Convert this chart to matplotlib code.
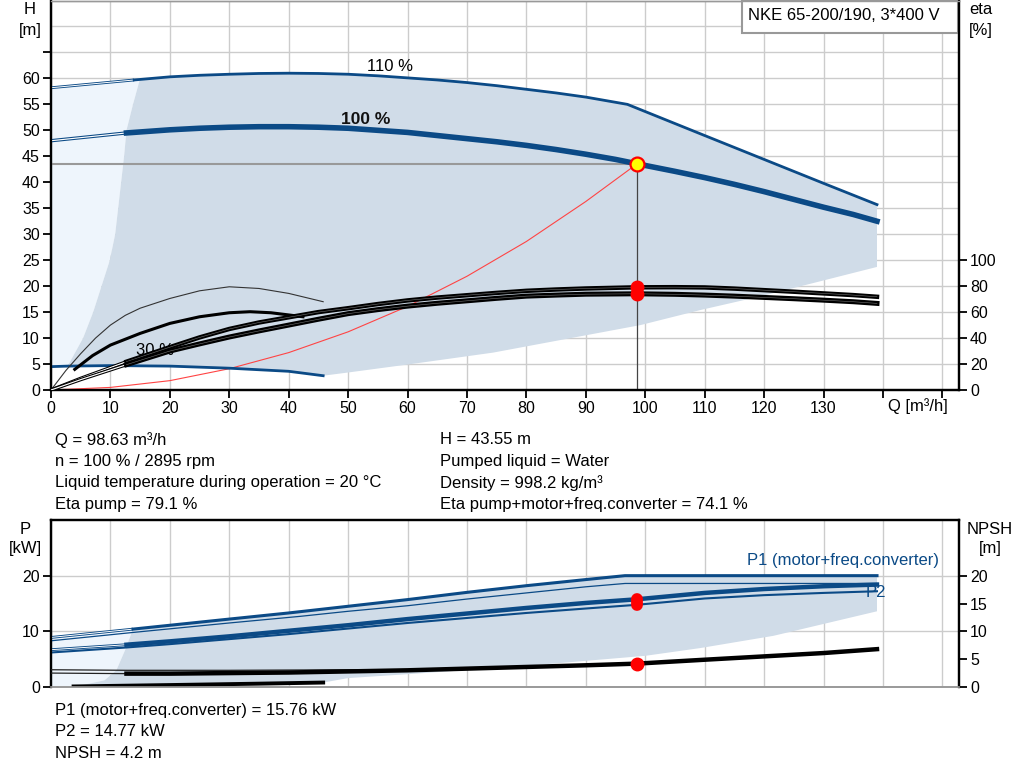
import numpy as np
import matplotlib
matplotlib.use('Agg')
import matplotlib.pyplot as plt
from matplotlib.patches import Rectangle, Polygon

plt.rcParams['font.family'] = ['Liberation Sans', 'DejaVu Sans']

BLUE = '#0b4a86'
SHADE = '#d0dce8'
LIGHT = '#eef5fc'
GRID = '#cccccc'

# ---- top chart data (Q in m3/h, H in m, eta in %) ----
q_110 = [0, 14, 20, 25, 30, 35, 40, 45, 50, 55, 60, 65, 70, 75, 80, 85, 90, 97, 110, 120, 130, 139]
h_110 = [58.2, 59.7, 60.3, 60.6, 60.8, 60.95, 61.0, 60.95, 60.8, 60.5, 60.1, 59.7, 59.2, 58.6,
         57.9, 57.2, 56.4, 55.0, 49.0, 44.4, 39.8, 35.7]

q_100 = [0, 12.7, 20, 25, 30, 35, 40, 45, 50, 55, 60, 65, 70, 75, 80, 85, 90, 95, 98.63,
         105, 110, 115, 120, 125, 130, 135, 139]
h_100 = [48.0, 49.5, 50.1, 50.4, 50.6, 50.7, 50.7, 50.6, 50.4, 50.0, 49.6, 49.0, 48.4, 47.8,
         47.1, 46.3, 45.4, 44.4, 43.55, 42.1, 40.9, 39.6, 38.2, 36.7, 35.2, 33.8, 32.5]

q_min = [0, 2.8, 10, 20, 30, 40, 45.8]
h_min = [4.5, 4.6, 4.7, 4.6, 4.2, 3.6, 2.75]

q_left = [2.8, 5.4, 7.1, 8.5, 9.9, 10.8, 11.3, 11.8, 12.3, 12.7, 13.8, 15.0]
h_left = [4.6, 10, 15, 20, 25, 30, 35, 40, 45, 50, 55, 60]

q_low = [139, 120, 109.3, 99.2, 74.4, 60, 50.2, 45.8]
h_low = [23.7, 18.2, 15.4, 12.5, 7.2, 4.9, 3.4, 2.75]

q_sys = [0, 10, 20, 30, 40, 50, 60, 70, 80, 90, 98.63]
h_sys = [0, 0.5, 1.8, 4.1, 7.2, 11.2, 16.1, 21.9, 28.6, 36.3, 43.55]

q_eta = [0, 5, 12.7, 20, 25, 30, 35, 40, 45, 50, 55, 60, 65, 70, 75, 80, 85, 90, 98.63,
         105, 110, 115, 120, 125, 130, 135, 139]
eta_pump = [0, 9, 21.8, 33, 40.5, 47, 52, 56, 60, 63, 66.2, 69, 71.2, 73, 74.8, 76.4, 77.4,
            78.2, 79.1, 79.2, 79.0, 78.1, 76.9, 75.7, 74.4, 73.1, 71.8]
eta_total = [0, 8, 19.5, 30, 35.5, 40.8, 45.5, 50, 54.5, 58.8, 61.9, 64.6, 66.8, 68.7, 70.6,
             72.3, 73.1, 73.8, 74.1, 73.7, 73.1, 72.3, 71.3, 70.3, 69.2, 68.0, 66.7]

q_eta_min = [0, 2.5, 5, 7.5, 10, 12.5, 15, 20, 25, 30, 35, 40, 45.8]
eta_pump_min = [0, 15, 28, 40, 50, 57.5, 63, 70.5, 76.4, 79.5, 78.2, 74.4, 68]
q_etat_min = [4, 7, 10, 15, 20, 25, 30, 33.5, 37, 40.2, 42.4]
eta_total_min = [15.9, 26.5, 34.6, 43.6, 51.3, 56.4, 59.5, 60.3, 59.5, 57.7, 56.4]

# ---- bottom chart data (P in kW, NPSH in m) ----
q_p = [0, 13.8, 30, 40, 50, 60, 70, 80, 90, 96.6, 110, 120, 130, 139]
p1_110 = [8.9, 10.4, 12.2, 13.3, 14.5, 15.7, 17.0, 18.2, 19.3, 20.0, 20.0, 20.0, 20.0, 20.0]
q_p2 = [0, 13.8, 30, 42, 50, 60, 70, 80, 90, 96.6, 139]
p2_110 = [8.3, 9.8, 11.5, 12.7, 13.6, 14.6, 15.8, 16.9, 18.0, 18.6, 18.6]

q_p100 = [0, 12.7, 20, 30, 40, 50, 60, 70, 80, 90, 98.63, 110, 120, 130, 139]
p1_100 = [6.7, 7.6, 8.2, 9.1, 10.1, 11.1, 12.2, 13.2, 14.2, 15.1, 15.76, 16.9, 17.6, 18.1, 18.4]
p2_100 = [6.2, 7.1, 7.7, 8.6, 9.5, 10.5, 11.5, 12.4, 13.3, 14.1, 14.77, 15.9, 16.5, 16.9, 17.2]
npsh = [2.5, 2.4, 2.4, 2.5, 2.6, 2.8, 3.0, 3.3, 3.6, 3.9, 4.2, 4.9, 5.5, 6.1, 6.8]
q_npsh110 = [0, 12.7, 30, 50, 60]
npsh_110 = [3.1, 3.0, 3.0, 3.1, 3.1]

q_pmin = [3.8, 20, 35, 45.8]
p_min = [0.1, 0.35, 0.6, 0.8]

q_pleft = [3.8, 9, 11, 12.5, 13.8]
p_left = [0, 1.2, 3, 6.7, 10.4]
q_plow = [139, 121.6, 109.3, 100, 80, 60, 50, 45.8]
p_plow = [13.6, 9.2, 7.0, 5.6, 3.8, 2.3, 1.6, 0.8]

q_op = 98.63
h_op = 43.55

info_left = ['Q = 98.63 m³/h', 'n = 100 % / 2895 rpm',
             'Liquid temperature during operation = 20 °C', 'Eta pump = 79.1 %']
info_right = ['H = 43.55 m', 'Pumped liquid = Water', 'Density = 998.2 kg/m³',
              'Eta pump+motor+freq.converter = 74.1 %']
info_bottom = ['P1 (motor+freq.converter) = 15.76 kW', 'P2 = 14.77 kW', 'NPSH = 4.2 m']


def double_line(axis, x, y, color, lw=2.2, zorder=4):
    # thin extension drawn as outline with white centre
    axis.plot(x, y, color=color, lw=lw, zorder=zorder, solid_capstyle='butt')
    axis.plot(x, y, color='white', lw=lw * 0.35, zorder=zorder, solid_capstyle='butt')


W, H = 1024, 781
fig = plt.figure(figsize=(W / 100, H / 100), dpi=100)
ax = fig.add_axes([51 / W, 1 - 390 / H, 908 / W, 389.5 / H])
ax2 = fig.add_axes([51 / W, 1 - 687 / H, 908 / W, 167 / H])

# ---------------- top chart ----------------
ax.set_xlim(0, 152.8)
ax.set_ylim(0, 75)
for x in range(0, 151, 10):
    ax.axvline(x, color=GRID, lw=1, zorder=0)
for y in range(5, 75, 5):
    ax.axhline(y, color=GRID, lw=1, zorder=0)

light = np.column_stack([
    np.concatenate([[0], q_110[:2], q_left[::-1], q_min[1::-1]]),
    np.concatenate([[4.5], h_110[:2], h_left[::-1], h_min[1::-1]]),
])
ax.add_patch(Polygon(light, closed=True, fc=LIGHT, ec='none', zorder=1))

dark = np.column_stack([
    np.concatenate([[q_left[-1]], q_110[2:], q_low, q_min[-2:0:-1], q_left]),
    np.concatenate([[h_left[-1]], h_110[2:], h_low, h_min[-2:0:-1], h_left]),
])
ax.add_patch(Polygon(dark, closed=True, fc=SHADE, ec='none', zorder=1))

# head curves
double_line(ax, q_110[:2], h_110[:2], BLUE, lw=2.0)
ax.plot(q_110[1:], h_110[1:], color=BLUE, lw=2.0, zorder=4)
double_line(ax, q_100[:2], h_100[:2], BLUE, lw=2.4)
ax.plot(q_100[1:], h_100[1:], color=BLUE, lw=4.0, zorder=4)
ax.plot(q_min, h_min, color=BLUE, lw=2.0, zorder=4)
ax.text(57, 62.2, '110 %', fontsize=12, ha='center', va='center', zorder=5)
ax.text(53, 52.1, '100 %', fontsize=12.5, ha='center', va='center', zorder=5,
        fontweight='bold', color='#111111')
ax.text(17.5, 7.7, '30 %', fontsize=12, ha='center', va='center', zorder=2)

# system curve and duty point guides
ax.plot(q_sys, h_sys, color='#ff4444', lw=0.8, zorder=3)
ax.plot([0, q_op], [h_op, h_op], color='#999999', lw=1.5, zorder=3)
ax.plot([q_op, q_op], [0, h_op], color='#444444', lw=0.9, zorder=3)

# efficiency curves on secondary axis
axe = ax.twinx()
axe.set_ylim(0, 300)
axe.plot(q_eta_min, eta_pump_min, color='#333333', lw=0.8, zorder=3)
axe.plot(q_etat_min, eta_total_min, color='black', lw=2.2, zorder=3)
for eta, lw in ((eta_pump, 3.2), (eta_total, 3.6)):
    double_line(axe, q_eta[:3], eta[:3], 'black', lw=2.4)
    axe.plot(q_eta[2:], eta[2:], color='black', lw=lw, zorder=4)
    axe.plot(q_eta[2:], eta[2:], color='white', lw=0.4, zorder=4, alpha=0.45)
i_op = q_eta.index(q_op)
axe.plot([q_op, q_op], [eta_pump[i_op], eta_total[i_op]], 'o', color='red', ms=9,
         mec='red', zorder=6)
axe.plot([q_op, q_op], [eta_pump[i_op] - 1, eta_total[i_op] + 1], color='red', lw=7,
         zorder=6, solid_capstyle='butt')
ax.plot(q_op, h_op, 'o', ms=10, mfc='#ffff00', mec='red', mew=1.6, zorder=7)

# title box
ax.add_patch(Rectangle(((742 - 51) / 908, 1 - 33 / 390), (958 - 742) / 908, 33 / 390,
                       transform=ax.transAxes, fc='white', ec='#999999', lw=1.5, zorder=8,
                       clip_on=False))
ax.text((748 - 51) / 908, 1 - 15 / 390, 'NKE 65-200/190, 3*400 V', transform=ax.transAxes,
        fontsize=12, va='center', ha='left', zorder=9)

# axes styling
ax.set_xticks(range(0, 151, 10))
ax.set_xticklabels([str(v) for v in range(0, 131, 10)] + ['', ''])
ax.set_yticks(range(0, 66, 5))
ax.set_yticklabels([str(v) for v in range(0, 61, 5)] + [''])
axe.set_yticks(range(0, 101, 20))
for a in (ax, axe):
    a.tick_params(direction='out', length=6, width=1.3, labelsize=11.5, pad=2)
    for s in a.spines.values():
        s.set_linewidth(1.6)
    a.spines['top'].set_color('#999999')
    a.spines['top'].set_linewidth(1.0)
ax.patch.set_alpha(0)
axe.patch.set_alpha(0)
ax.text(140.8, -1.6, 'Q [m³/h]', fontsize=12, ha='left', va='top')

fig.text(30 / W, 1 - 10 / H, 'H', fontsize=12, ha='center', va='center')
fig.text(30 / W, 1 - 30 / H, '[m]', fontsize=12, ha='center', va='center')
fig.text(981 / W, 1 - 10 / H, 'eta', fontsize=12, ha='center', va='center')
fig.text(981 / W, 1 - 30 / H, '[%]', fontsize=12, ha='center', va='center')

# info text
for i, line in enumerate(info_left):
    fig.text(55 / W, 1 - (440 + i * 21.5) / H, line, fontsize=12, va='center')
for i, line in enumerate(info_right):
    fig.text(440 / W, 1 - (440 + i * 21.5) / H, line, fontsize=12, va='center')
for i, line in enumerate(info_bottom):
    fig.text(55 / W, 1 - (711 + i * 21) / H, line, fontsize=12, va='center')

# ---------------- bottom chart ----------------
ax2.set_xlim(0, 152.8)
ax2.set_ylim(0, 30)
for x in range(0, 151, 10):
    ax2.axvline(x, color=GRID, lw=1, zorder=0)
for y in (10, 20):
    ax2.axhline(y, color=GRID, lw=1, zorder=0)

plight = np.column_stack([
    np.concatenate([[0, 0], q_p[:2], q_pleft[::-1]]),
    np.concatenate([[0, p1_110[0]], p1_110[:2], p_left[::-1]]),
])
ax2.add_patch(Polygon(plight, closed=True, fc=LIGHT, ec='none', zorder=1))
pdark = np.column_stack([
    np.concatenate([q_p[1:], q_plow, q_pmin[::-1], q_pleft]),
    np.concatenate([p1_110[1:], p_plow, p_min[::-1], p_left]),
])
ax2.add_patch(Polygon(pdark, closed=True, fc=SHADE, ec='none', zorder=1))

double_line(ax2, q_p[:2], p1_110[:2], BLUE, lw=2.0)
ax2.plot(q_p[1:], p1_110[1:], color=BLUE, lw=2.2, zorder=4)
ax2.plot(q_p2, p2_110, color=BLUE, lw=0.9, zorder=4)
double_line(ax2, q_p100[:2], p1_100[:2], BLUE, lw=2.0)
ax2.plot(q_p100[1:], p1_100[1:], color=BLUE, lw=3.2, zorder=4)
ax2.plot(q_p100, p2_100, color=BLUE, lw=1.5, zorder=4)
ax2.plot(q_pmin, p_min, color='black', lw=2.8, zorder=4)
ax2.text(138.8, 16.9, 'P2', color=BLUE, fontsize=12, ha='center', va='center', zorder=5)
ax2.text(149.4, 22.8, 'P1 (motor+freq.converter)', color=BLUE, fontsize=12,
         ha='right', va='center', zorder=5)

axn = ax2.twinx()
axn.set_ylim(0, 30)
axn.plot(q_npsh110, npsh_110, color='#222222', lw=0.9, zorder=3)
axn.plot(q_p100[:2], npsh[:2], color='#222222', lw=0.9, zorder=3)
axn.plot(q_p100[1:], npsh[1:], color='black', lw=3.2, zorder=4)
i_p = q_p100.index(q_op)
axn.plot(q_op, npsh[i_p], 'o', color='red', ms=9, zorder=6)
ax2.plot([q_op, q_op], [p1_100[i_p], p2_100[i_p]], color='red', lw=8.5, zorder=6,
         solid_capstyle='round')

ax2.set_xticks([])
ax2.set_yticks([0, 10, 20])
axn.set_yticks(range(0, 21, 5))
for a in (ax2, axn):
    a.tick_params(direction='out', length=6, width=1.3, labelsize=11.5, pad=2)
    for s in a.spines.values():
        s.set_linewidth(1.6)
    a.spines['bottom'].set_color('#999999')
    a.spines['bottom'].set_linewidth(1.2)
ax2.patch.set_alpha(0)
axn.patch.set_alpha(0)

fig.text(25 / W, 1 - 529 / H, 'P', fontsize=12, ha='center', va='center')
fig.text(25 / W, 1 - 549 / H, '[kW]', fontsize=12, ha='center', va='center')
fig.text(990 / W, 1 - 529 / H, 'NPSH', fontsize=12, ha='center', va='center')
fig.text(990 / W, 1 - 549 / H, '[m]', fontsize=12, ha='center', va='center')

fig.savefig('out.png', dpi=100)
